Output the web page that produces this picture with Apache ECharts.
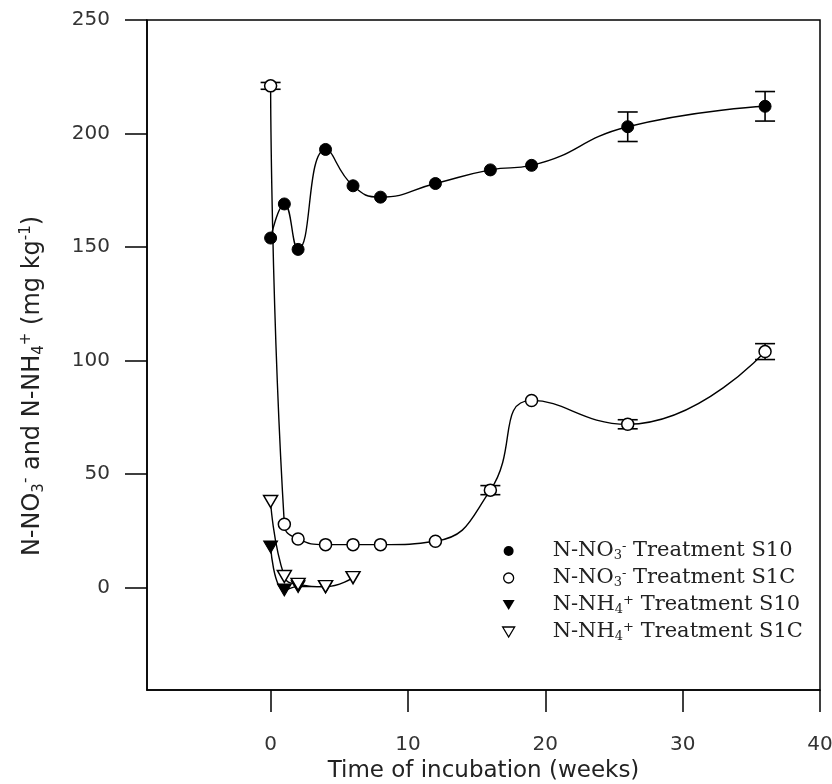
<!DOCTYPE html>
<html>
<head>
<meta charset="utf-8">
<script src="https://cdn.jsdelivr.net/npm/echarts@6/dist/echarts.min.js"></script>
<style>
  html, body { margin: 0; padding: 0; background: #fff; }
  #chart { width: 832px; height: 784px; }
</style>
</head>
<body>
<div id="chart"></div>
<script>
// sampling times (weeks)
const weeks = [0, 1, 2, 4, 6, 8, 12, 16, 19, 26, 36];
const weeksNH4S10 = [0, 1, 2, 4];
const weeksNH4S1C = [0, 1, 2, 4, 6];

// N-NO3- (mg/kg)
const no3S10 = [154, 169, 149, 193, 177, 172, 178, 184, 186, 203, 212];
const no3S10Err = [0, 0, 0, 0, 0, 0, 0, 0, 0, 6.5, 6.5];
const no3S1C = [221, 28, 21.5, 19, 19, 19, 20.5, 43, 82.5, 72, 104];
const no3S1CErr = [1.5, 0, 0, 0, 0, 0, 0, 2, 0, 2, 3.5];

// N-NH4+ (mg/kg)
const nh4S10 = [18, -1, 0.5, 0.5];
const nh4S1C = [38, 5, 1.5, 0.5, 4.5];

const xTicks = [0, 10, 20, 30, 40];
const yTicks = [0, 50, 100, 150, 200, 250];

const names = [
  'N-NO3- Treatment S10',
  'N-NO3- Treatment S1C',
  'N-NH4+ Treatment S10',
  'N-NH4+ Treatment S1C'
];
const richNames = {
  'N-NO3- Treatment S10': '{t|N-NO}{sub|3}{sup|-}{t| Treatment S10}',
  'N-NO3- Treatment S1C': '{t|N-NO}{sub|3}{sup|-}{t| Treatment S1C}',
  'N-NH4+ Treatment S10': '{t|N-NH}{sub|4}{sup|+}{t| Treatment S10}',
  'N-NH4+ Treatment S1C': '{t|N-NH}{sub|4}{sup|+}{t| Treatment S1C}'
};

const downTri = 'path://M0,0L12,0L6,10Z';
const pair = (xs, ys) => xs.map((x, i) => [x, ys[i]]);
const errData = (xs, ys, es) =>
  xs.map((x, i) => [x, ys[i] - es[i], ys[i] + es[i], es[i]]).filter(d => d[3] > 0);

const sansFont = "'DejaVu Sans', sans-serif";
const serifFont = "'DejaVu Serif', serif";

function richStyle(family, size, lh, subLh) {
  const small = Math.round(size * 0.62);
  return {
    t: { fontFamily: family, fontSize: size, color: '#222', lineHeight: lh, verticalAlign: 'middle' },
    sub: { fontFamily: family, fontSize: small, color: '#222', lineHeight: subLh, verticalAlign: 'bottom' },
    sup: { fontFamily: family, fontSize: small, color: '#222', lineHeight: subLh, verticalAlign: 'top' }
  };
}

const chart = echarts.init(document.getElementById('chart'));

const errorBars = (data) => ({
  type: 'custom',
  z: 1,
  silent: true,
  encode: { x: 0, y: [1, 2] },
  data: data,
  renderItem: (params, api) => {
    const lo = api.coord([api.value(0), api.value(1)]);
    const hi = api.coord([api.value(0), api.value(2)]);
    const w = 10;
    const st = { stroke: '#000', lineWidth: 1.6 };
    return {
      type: 'group',
      children: [
        { type: 'line', shape: { x1: hi[0], y1: hi[1], x2: lo[0], y2: lo[1] }, style: st },
        { type: 'line', shape: { x1: hi[0] - w, y1: hi[1], x2: hi[0] + w, y2: hi[1] }, style: st },
        { type: 'line', shape: { x1: lo[0] - w, y1: lo[1], x2: lo[0] + w, y2: lo[1] }, style: st }
      ]
    };
  }
});

const lineSeries = (name, data, symbol, size, filled, extra) => Object.assign({
  name: name,
  type: 'line',
  data: data,
  smooth: 0.5,
  z: 3,
  symbol: symbol,
  symbolSize: size,
  showAllSymbol: true,
  lineStyle: { color: '#000', width: 1.4 },
  itemStyle: filled
    ? { color: '#000', borderColor: '#000', borderWidth: 1 }
    : { color: '#fff', borderColor: '#000', borderWidth: 1.5 },
  emphasis: { disabled: true }
}, extra || {});

const option = {
  animation: false,
  backgroundColor: '#fff',
  grid: {
    left: 147, right: 12, top: 20, bottom: 94,
    outerBoundsMode: 'none',
    containLabel: false,
    show: true, borderColor: '#000', borderWidth: 1.5
  },
  legend: {
    orient: 'vertical',
    left: 497,
    top: 535,
    itemWidth: 78,
    itemHeight: 10,
    itemGap: 5,
    selectedMode: false,
    data: [
      { name: names[0], icon: 'circle', itemStyle: { color: '#000', borderWidth: 0 } },
      { name: names[1], icon: 'circle', itemStyle: { color: '#fff', borderColor: '#000', borderWidth: 1.3 } },
      { name: names[2], icon: downTri, itemStyle: { color: '#000', borderWidth: 0 } },
      { name: names[3], icon: downTri, itemStyle: { color: '#fff', borderColor: '#000', borderWidth: 1.3 } }
    ],
    formatter: (n) => richNames[n],
    textStyle: { rich: richStyle(serifFont, 21, 22, 11) }
  },
  xAxis: {
    type: 'value',
    min: -9,
    max: 40,
    name: 'Time of incubation (weeks)',
    nameLocation: 'middle',
    nameGap: 68,
    nameTextStyle: { fontFamily: sansFont, fontSize: 23, color: '#222' },
    splitLine: { show: false },
    axisLine: { show: true, onZero: false, lineStyle: { color: '#000', width: 1.5 } },
    axisTick: { show: true, length: 22, customValues: xTicks, lineStyle: { color: '#000', width: 1.5 } },
    axisLabel: { customValues: xTicks, margin: 45, fontFamily: sansFont, fontSize: 20, color: '#333' }
  },
  yAxis: {
    type: 'value',
    min: -45,
    max: 250,
    name: '{t|N-NO}{sub|3}{sup|-}{t| and N-NH}{sub|4}{sup|+}{t| (mg kg}{sup|-1}{t|)}',
    nameLocation: 'middle',
    nameRotate: 90,
    nameGap: 100,
    nameTextStyle: { padding: [0, 62, 0, 0], rich: richStyle(sansFont, 24, 28, 13) },
    splitLine: { show: false },
    axisLine: { show: true, onZero: false, lineStyle: { color: '#000', width: 1.5 } },
    axisTick: { show: true, length: 22, customValues: yTicks, lineStyle: { color: '#000', width: 1.5 } },
    axisLabel: { customValues: yTicks, margin: 37, fontFamily: sansFont, fontSize: 20, color: '#333' }
  },
  series: [
    errorBars(errData(weeks, no3S10, no3S10Err)),
    errorBars(errData(weeks, no3S1C, no3S1CErr)),
    lineSeries(names[0], pair(weeks, no3S10), 'circle', 12, true),
    lineSeries(names[1], pair(weeks, no3S1C), 'circle', 12, false),
    lineSeries(names[2], pair(weeksNH4S10, nh4S10), 'triangle', [14, 12], true, { symbolRotate: 180 }),
    lineSeries(names[3], pair(weeksNH4S1C, nh4S1C), 'triangle', [14, 12], false, { symbolRotate: 180 })
  ]
};

chart.setOption(option);
</script>
</body>
</html>
